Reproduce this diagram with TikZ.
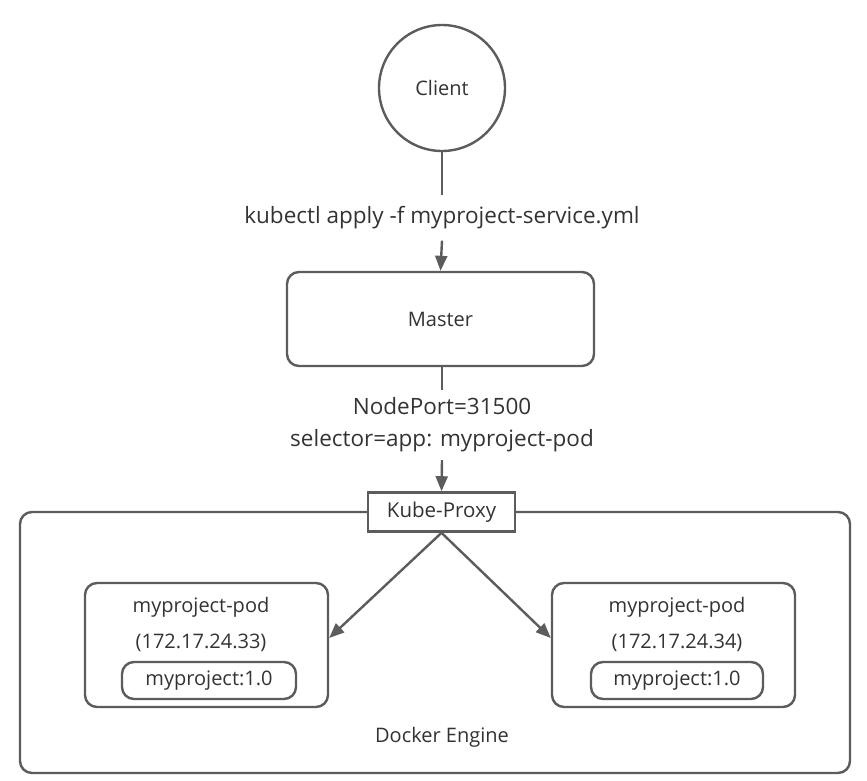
\documentclass[tikz,border=0pt]{standalone}
\usepackage{fontspec}
\setmainfont{Open Sans}
\usepackage{tikz}
\usetikzlibrary{positioning, arrows.meta}
\definecolor{kline}{HTML}{5C5C5C}
\definecolor{ktext}{HTML}{333333}
\tikzset{
  kbox/.style={draw=kline, line width=2.4pt, rounded corners=12pt, fill=white, inner sep=0pt},
  ktxt/.style={text=ktext, inner sep=0pt, font=\fontsize{20}{24}\selectfont},
  klabel/.style={text=ktext, inner sep=0pt, align=center, font=\fontsize{22.5}{32}\selectfont},
  kflow/.style={draw=kline, line width=2.4pt, -{Triangle[width=12pt,length=15pt]}},
  klink/.style={draw=kline, line width=2.4pt}
}

\begin{document}
\begin{tikzpicture}[x=1pt, y=-1pt]
  \useasboundingbox (0,0) rectangle (867,780);
  % client and master
  \node[circle, draw=kline, line width=2.4pt, minimum size=126pt, inner sep=0pt] (client) at (442,88) {};
  \node[ktxt] at (client) {Client};
  \node[klabel, minimum height=45pt] (cmd) at (442,218) {kubectl apply -f myproject-service.yml};
  \node[kbox, minimum width=307pt, minimum height=94pt] (master) at (440.5,319) {};
  \node[ktxt] at (master) {Master};
  \draw[klink] (client.south) -- (cmd.north);
  \draw[kflow] (cmd.south) -- (master.north);

  % service
  \node[klabel, minimum height=70pt] (svc) at (442,425) {NodePort=31500\\selector=app: myproject-pod};
  \draw[klink] (master.south -| svc.north) -- (svc.north);

  % docker engine with kube-proxy on its top edge
  \node[kbox, minimum width=830pt, minimum height=261pt] (engine) at (435,642.5) {};
  \node[ktxt, anchor=base] at (442,742) {Docker Engine};
  \node[draw=kline, line width=2.6pt, fill=white, ktxt, font=\fontsize{20.5}{24}\selectfont,
        minimum width=147pt, minimum height=39pt] (proxy) at (441.5,512) {Kube-Proxy};
  \draw[kflow] (svc.south) -- (proxy.north);

  % pods
  \node[kbox, minimum width=243pt, minimum height=124pt] (podl) at (206.5,645) {};
  \node[ktxt, anchor=base] at (201,612) {myproject-pod};
  \node[ktxt, anchor=base] at (201,648) {(172.17.24.33)};
  \node[kbox, ktxt, minimum width=174pt, minimum height=37pt] (imgl) at (209,680.5) {myproject:1.0};

  \node[kbox, minimum width=243pt, minimum height=124pt] (podr) at (673.5,645) {};
  \node[ktxt, anchor=base] at (677,612) {myproject-pod};
  \node[ktxt, anchor=base] at (677,648) {(172.17.24.34)};
  \node[kbox, ktxt, minimum width=172pt, minimum height=37pt] (imgr) at (677,680.5) {myproject:1.0};

  \draw[kflow] (proxy.south) -- ([yshift=7pt]podl.east);
  \draw[kflow] (proxy.south) -- ([yshift=7pt]podr.west);
\end{tikzpicture}
\end{document}
